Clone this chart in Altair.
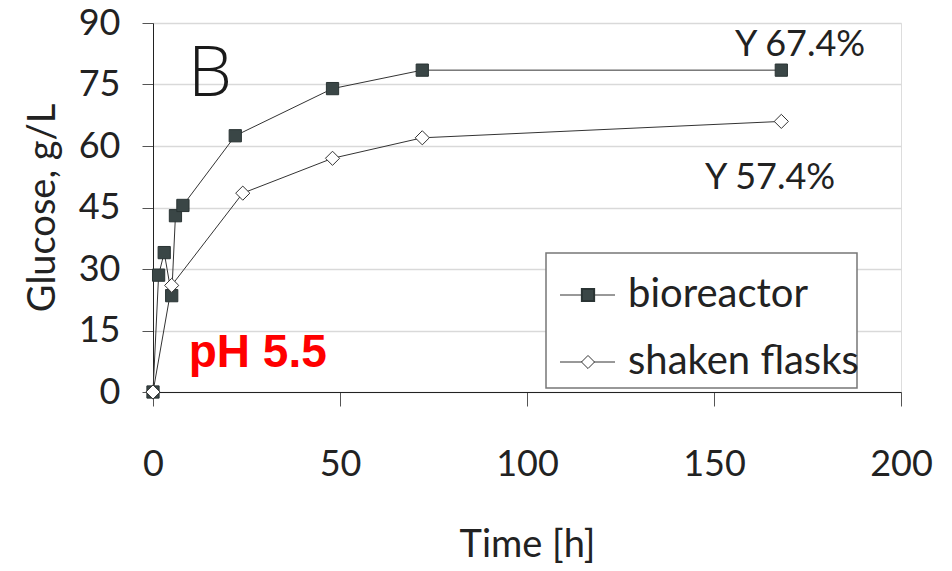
import altair as alt
import pandas as pd

# ---- data ----
bio_time = [0, 1.5, 3, 5, 6, 8, 22, 48, 72, 168]
bio_glucose = [0, 28.5, 34, 23.5, 43, 45.5, 62.5, 74, 78.5, 78.5]
flask_time = [0, 5, 24, 48, 72, 168]
flask_glucose = [0, 26, 48.5, 57, 62, 66]

x_ticks = [0, 50, 100, 150, 200]
y_ticks = [0, 15, 30, 45, 60, 75, 90]

series_names = ["bioreactor", "shaken flasks"]

ann_text = ["Y 67.4%", "Y 57.4%"]
ann_x = [173, 165]
ann_y = [84.6, 52.2]

FONT = "Lato"
DARK = "#333333"
SQ = "#3a4646"

bio = pd.DataFrame({"t": bio_time, "g": bio_glucose})
flask = pd.DataFrame({"t": flask_time, "g": flask_glucose})
ann = pd.DataFrame({"t": ann_x, "g": ann_y, "label": ann_text})
one = pd.DataFrame({"k": [0]})

xenc = alt.X("t:Q", scale=alt.Scale(domain=[0, 200], nice=False),
             axis=alt.Axis(values=x_ticks, grid=False, tickSize=14, tickColor="#555555",
                           domainColor="#222222", labelFontSize=36, labelPadding=41,
                           labelFlush=False, labelOverlap=False,
                           labelColor="#222222", labelFont=FONT,
                           title="Time [h]", titleFontSize=38, titleFont=FONT,
                           titleFontWeight="normal", titleColor="#222222", titlePadding=44))
yenc = alt.Y("g:Q", scale=alt.Scale(domain=[0, 90], nice=False),
             axis=alt.Axis(values=y_ticks, grid=True, gridColor="#d9d9d9", gridWidth=1.5,
                           tickSize=11, tickColor="#555555", domainColor="#222222",
                           labelFontSize=36, labelPadding=22, labelColor="#222222",
                           labelFont=FONT, labelFlush=False, labelOverlap=False,
                           title="Glucose, g/L", titleFontSize=38, titleFont=FONT,
                           titleFontWeight="normal", titleColor="#222222", titlePadding=16))

bio_line = alt.Chart(bio).mark_line(color=DARK, strokeWidth=1).encode(x=xenc, y=yenc)
bio_pts = alt.Chart(bio).mark_point(shape="square", filled=True, size=150, fill=SQ,
                                     stroke="#2a3434", strokeWidth=1, opacity=1).encode(x="t:Q", y="g:Q")
flask_line = alt.Chart(flask).mark_line(color=DARK, strokeWidth=1).encode(x="t:Q", y="g:Q")
flask_pts = alt.Chart(flask).mark_point(shape="diamond", filled=True, size=200, fill="white",
                                         stroke=DARK, strokeWidth=1, opacity=1).encode(x="t:Q", y="g:Q")

ann_layer = alt.Chart(ann).mark_text(font=FONT, fontSize=36, color="#222222",
                                      align="center", baseline="middle").encode(
    x="t:Q", y="g:Q", text="label:N")

b_label = alt.Chart(pd.DataFrame({"t": [15.2], "g": [77.3], "label": ["B"]})).mark_text(
    font="Open Sans", fontSize=70, fontWeight=300, color="#1a1a1a",
    align="center", baseline="middle").encode(x="t:Q", y="g:Q", text="label:N")

ph_label = alt.Chart(pd.DataFrame({"t": [28], "g": [9.5], "label": ["pH 5.5"]})).mark_text(
    font="Liberation Sans", fontSize=46, fontWeight="bold", color="#ff0000",
    align="center", baseline="middle").encode(x="t:Q", y="g:Q", text="label:N")

# ---- legend box (drawn manually) ----
leg_box = alt.Chart(one).mark_rect(fill="white", stroke="#777777", strokeWidth=1.5).encode(
    x=alt.value(393), x2=alt.value(704), y=alt.value(230), y2=alt.value(365))

row_y = [272, 339]
leg_lines = alt.layer(*[
    alt.Chart(one).mark_rule(color=DARK, strokeWidth=1).encode(
        x=alt.value(407), x2=alt.value(462), y=alt.value(ry)) for ry in row_y])
leg_sq = alt.Chart(one).mark_point(shape="square", filled=True, size=150, fill=SQ,
                                   stroke="#2a3434", opacity=1).encode(
    x=alt.value(435), y=alt.value(row_y[0]))
leg_di = alt.Chart(one).mark_point(shape="diamond", filled=True, size=170, fill="white",
                                   stroke=DARK, strokeWidth=1, opacity=1).encode(
    x=alt.value(435), y=alt.value(row_y[1]))
leg_txt = alt.layer(*[
    alt.Chart(one).mark_text(font=FONT, fontSize=40, color="#222222", align="left",
                             baseline="middle").encode(
        x=alt.value(475), y=alt.value(ry), text=alt.value(name))
    for ry, name in zip(row_y, series_names)])

chart = alt.layer(
    bio_line, flask_line, bio_pts, flask_pts, ann_layer, b_label, ph_label,
    leg_box, leg_lines, leg_sq, leg_di, leg_txt
).properties(
    width=748, height=369,
    autosize=alt.AutoSizeParams(type="none"),
    padding={"left": 153, "top": 23, "right": 51, "bottom": 179},
).configure_view(stroke=None).configure(background="white")

chart.save("out.html", embed_options={"renderer": "svg", "actions": False})
